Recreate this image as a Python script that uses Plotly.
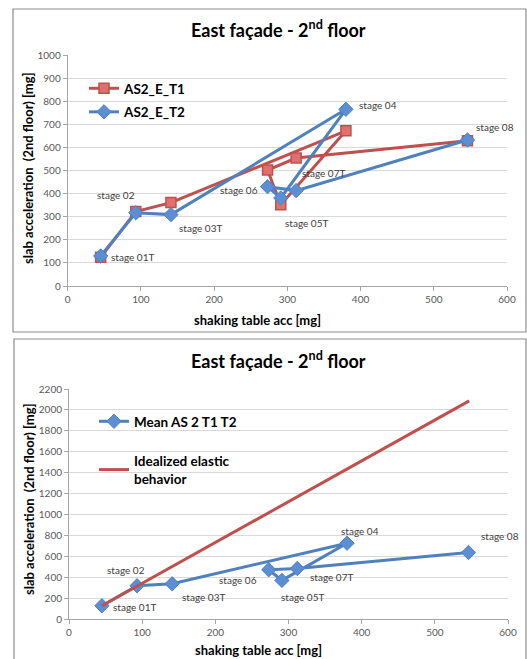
import plotly.graph_objects as go

stages = ["stage 01T", "stage 02", "stage 03T", "stage 04", "stage 05T", "stage 06", "stage 07T", "stage 08"]
shaking_acc = [45, 93, 141, 380, 291, 273, 312, 546]
as2_e_t1 = [124, 322, 361, 672, 352, 502, 554, 629]
as2_e_t2 = [130, 317, 309, 765, 381, 430, 413, 632]
mean_t1_t2 = [127, 318, 337, 725, 369, 471, 483, 636]
elastic_x = [45, 547]
elastic_y = [127, 2086]

x_ticks = [0, 100, 200, 300, 400, 500, 600]
y_ticks_top = [0, 100, 200, 300, 400, 500, 600, 700, 800, 900, 1000]
y_ticks_bot = [0, 200, 400, 600, 800, 1000, 1200, 1400, 1600, 1800, 2000, 2200]

# label offsets in pixels (dx, dy up)
top_offsets = [(32, -1), (-20, 18), (30, -13), (32, 4), (26, -25), (-29, -3), (27, 18), (28, 13)]
bot_offsets = [(33, -1), (-11, 16), (31, -13), (13, 12), (21, -17), (-31, -10), (34, -8), (32, 17)]

RED = "#C0504D"
BLUE = "#4F81BD"
FONT = "Lato"
W, H = 527, 659

fig = go.Figure()

fig.add_trace(go.Scatter(
    x=shaking_acc, y=as2_e_t1, name="AS2_E_T1", mode="lines+markers",
    line=dict(color=RED, width=3),
    marker=dict(symbol="square", size=10, color="#E0706D", line=dict(color=RED, width=1.5)),
    xaxis="x", yaxis="y", legend="legend", legendgroup="a"))
fig.add_trace(go.Scatter(
    x=shaking_acc, y=as2_e_t2, name="AS2_E_T2", mode="lines+markers",
    line=dict(color=BLUE, width=3),
    marker=dict(symbol="diamond", size=11, color="#5B8ED4", line=dict(color=BLUE, width=1)),
    xaxis="x", yaxis="y", legend="legend", legendgroup="b"))

fig.add_trace(go.Scatter(
    x=shaking_acc, y=mean_t1_t2, name="Mean AS 2 T1 T2", mode="lines+markers",
    line=dict(color=BLUE, width=3),
    marker=dict(symbol="diamond", size=11, color="#5B8ED4", line=dict(color=BLUE, width=1)),
    xaxis="x2", yaxis="y2", legend="legend2", legendgroup="c"))
fig.add_trace(go.Scatter(
    x=elastic_x, y=elastic_y, name="Idealized elastic<br>behavior", mode="lines",
    line=dict(color=RED, width=3),
    xaxis="x2", yaxis="y2", legend="legend2", legendgroup="d"))


def px_to_paper_x(px):
    return px / W


def px_to_paper_y(py):
    return 1 - py / H


axis_common = dict(
    showgrid=True, gridcolor="#D9D9D9", gridwidth=1,
    showline=True, linecolor="#A6A6A6", linewidth=1,
    ticks="outside", ticklen=4, tickcolor="#A6A6A6",
    tickfont=dict(family=FONT, size=10, color="#595959"),
    zeroline=False, fixedrange=True, automargin=False,
)

fig.update_layout(
    width=W, height=H,
    margin=dict(l=0, r=0, t=0, b=0),
    paper_bgcolor="white", plot_bgcolor="white",
    font=dict(family=FONT),
    xaxis=dict(axis_common, domain=[px_to_paper_x(67.7), px_to_paper_x(507)], range=[0, 600],
               tickvals=x_ticks, anchor="y", showgrid=False),
    yaxis=dict(axis_common, domain=[px_to_paper_y(286), px_to_paper_y(55)], range=[0, 1000],
               tickvals=y_ticks_top, anchor="x"),
    xaxis2=dict(axis_common, domain=[px_to_paper_x(69), px_to_paper_x(508)], range=[0, 600],
                tickvals=x_ticks, anchor="y2", showgrid=False),
    yaxis2=dict(axis_common, domain=[px_to_paper_y(619), px_to_paper_y(389)], range=[0, 2200],
                tickvals=y_ticks_bot, anchor="x2"),
    legend=dict(x=px_to_paper_x(84), y=px_to_paper_y(73), xanchor="left", yanchor="top",
                bgcolor="rgba(0,0,0,0)", font=dict(family=FONT, size=13.5, color="black", weight="bold"),
                traceorder="grouped", tracegroupgap=3, itemwidth=30),
    legend2=dict(x=px_to_paper_x(94), y=px_to_paper_y(406), xanchor="left", yanchor="top",
                 bgcolor="rgba(0,0,0,0)", font=dict(family=FONT, size=13.5, color="black", weight="bold"),
                 traceorder="grouped", tracegroupgap=19, itemwidth=30),
    showlegend=True,
)

shapes = [
    dict(type="rect", xref="paper", yref="paper",
         x0=px_to_paper_x(13), x1=px_to_paper_x(526), y0=px_to_paper_y(332), y1=px_to_paper_y(9),
         line=dict(color="#8C8C8C", width=1.2)),
    dict(type="rect", xref="paper", yref="paper",
         x0=px_to_paper_x(14), x1=px_to_paper_x(526), y0=px_to_paper_y(670), y1=px_to_paper_y(339),
         line=dict(color="#8C8C8C", width=1.2)),
]
fig.update_layout(shapes=shapes)

ann = []
title_text = "East façade - 2<sup>nd</sup> floor"
for ty in (29, 360):
    ann.append(dict(text=title_text, x=px_to_paper_x(278), y=px_to_paper_y(ty), xref="paper", yref="paper",
                    showarrow=False, xanchor="center", yanchor="middle",
                    font=dict(family=FONT, size=18, color="black", weight="bold")))
for (tx, ty) in ((257, 320), (258, 650)):
    ann.append(dict(text="shaking table acc [mg]", x=px_to_paper_x(tx), y=px_to_paper_y(ty),
                    xref="paper", yref="paper", showarrow=False, xanchor="center", yanchor="middle",
                    font=dict(family=FONT, size=13, color="black", weight="bold")))
for (tx, ty) in ((28, 168), (29, 499)):
    ann.append(dict(text="slab acceleration  (2nd floor) [mg]", x=px_to_paper_x(tx), y=px_to_paper_y(ty),
                    xref="paper", yref="paper", showarrow=False, textangle=-90,
                    xanchor="center", yanchor="middle",
                    font=dict(family=FONT, size=13, color="black", weight="bold")))

for i, s in enumerate(stages):
    dx, dy = top_offsets[i]
    ann.append(dict(text=s, x=shaking_acc[i], y=as2_e_t2[i], xref="x", yref="y", showarrow=False,
                    xshift=dx, yshift=dy, font=dict(family=FONT, size=10, color="#404040")))
    dx, dy = bot_offsets[i]
    ann.append(dict(text=s, x=shaking_acc[i], y=mean_t1_t2[i], xref="x2", yref="y2", showarrow=False,
                    xshift=dx, yshift=dy, font=dict(family=FONT, size=10, color="#404040")))

fig.update_layout(annotations=ann)

fig.write_html("out.html", config={"displayModeBar": False},
               post_script="document.body.style.margin='0px';")
